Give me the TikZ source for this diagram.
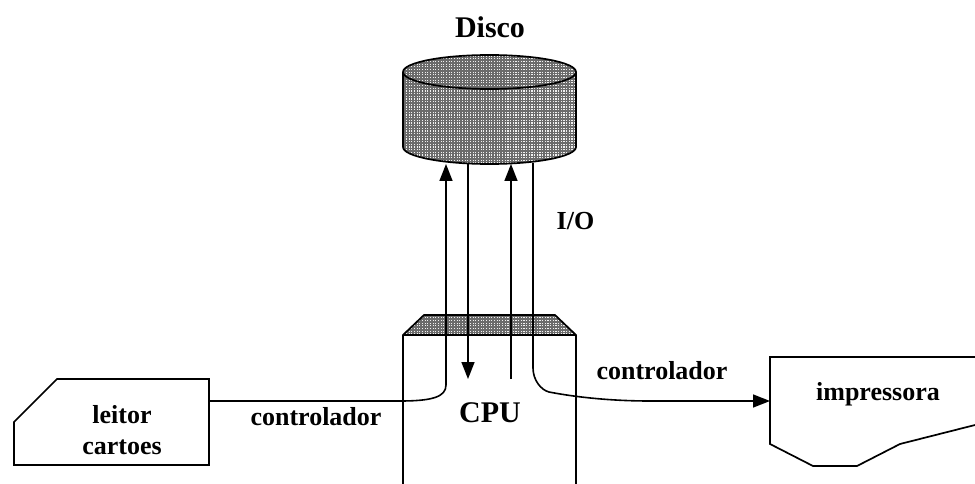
\documentclass[tikz,border=0pt]{standalone}
\usepackage{fontspec}
\setmainfont{Liberation Serif}
\usetikzlibrary{arrows.meta,patterns}
\pgfdeclarepatternformonly{dotgrid}{\pgfqpoint{-1pt}{-1pt}}{\pgfqpoint{1.5pt}{1.5pt}}{\pgfqpoint{2.67pt}{2.67pt}}{%
  \pgfpathrectangle{\pgfqpoint{0pt}{0pt}}{\pgfqpoint{1.2pt}{1.2pt}}\pgfusepath{fill}}
\definecolor{hatchgray}{gray}{0.42}
\tikzset{
  outline/.style={draw=black,line width=1.7pt,line join=miter},
  dotted fill/.style={pattern=dotgrid,pattern color=white!90!hatchgray},
  wire/.style={draw=black,line width=1.6pt},
  arrowwire/.style={wire,-{Triangle[length=17pt,width=13pt]}},
  lbl/.style={font=\bfseries\fontsize{#1}{#1}\selectfont,inner sep=0pt,align=center},
}
\begin{document}
\begin{tikzpicture}[x=1pt,y=-1pt]
\useasboundingbox (0,0) rectangle (975,484);
% disk
\path[fill=hatchgray] (403,72) -- (403,147) arc[start angle=180,end angle=360,x radius=86.5,y radius=-17] -- (576,72) arc[start angle=0,end angle=180,x radius=86.5,y radius=-17] -- cycle;
\path[dotted fill] (403,72) -- (403,147) arc[start angle=180,end angle=360,x radius=86.5,y radius=-17] -- (576,72) arc[start angle=0,end angle=180,x radius=86.5,y radius=-17] -- cycle;
\draw[outline] (403,72) -- (403,147) arc[start angle=180,end angle=360,x radius=86.5,y radius=-17] -- (576,72) arc[start angle=0,end angle=180,x radius=86.5,y radius=-17] -- cycle;
\draw[outline] (403,72) arc[start angle=180,end angle=360,x radius=86.5,y radius=-17];
% cpu
\path[fill=hatchgray] (403,335) -- (424,315) -- (555,315) -- (576,335) -- cycle;
\path[dotted fill] (403,335) -- (424,315) -- (555,315) -- (576,335) -- cycle;
\draw[outline] (403,484) -- (403,335) -- (424,315) -- (555,315) -- (576,335) -- (576,484);
\draw[outline] (403,335) -- (576,335);
% card reader
\draw[outline] (57,379) -- (209,379) -- (209,465) -- (14,465) -- (14,422) -- cycle;
% printer
\draw[outline] (975,357) -- (770,357) -- (770,444) -- (813,466) -- (857,466) -- (900,444) -- (975,425);
% anchor points
\coordinate (readerout) at (209,401);
\coordinate (diskin1) at (446,164);
\coordinate (diskout1) at (468,163);
\coordinate (cpuin1) at (468,379);
\coordinate (cpuout2) at (511,379);
\coordinate (diskin2) at (511,164);
\coordinate (diskout2) at (533,163);
\coordinate (printerin) at (770,401);
% connectors
\path[arrowwire] (readerout) -- (400,401) .. controls (432,401) and (446,397) .. (446,385) -- (diskin1);
\path[arrowwire] (diskout1) -- (cpuin1);
\path[arrowwire] (cpuout2) -- (diskin2);
\path[arrowwire] (diskout2) -- (533,368) .. controls (533,380) and (541,390) .. (549,392) .. controls (575,397) and (610,401) .. (650,401) -- (printerin);
% labels
\node[lbl=30] (disco) at (490,27) {Disco};
\node[lbl=26] (io) at (575.5,221) {I/O};
\node[lbl=30] (cpu) at (490,413) {CPU};
\node[lbl=26] (ctrl1) at (316,417) {controlador};
\node[lbl=26] (ctrl2) at (662,371) {controlador};
\node[lbl=26] (leitor) at (122,415) {leitor};
\node[lbl=26] (cartoes) at (122,447) {cartoes};
\node[lbl=26] (imp) at (878,394) {impressora};
\end{tikzpicture}
\end{document}
